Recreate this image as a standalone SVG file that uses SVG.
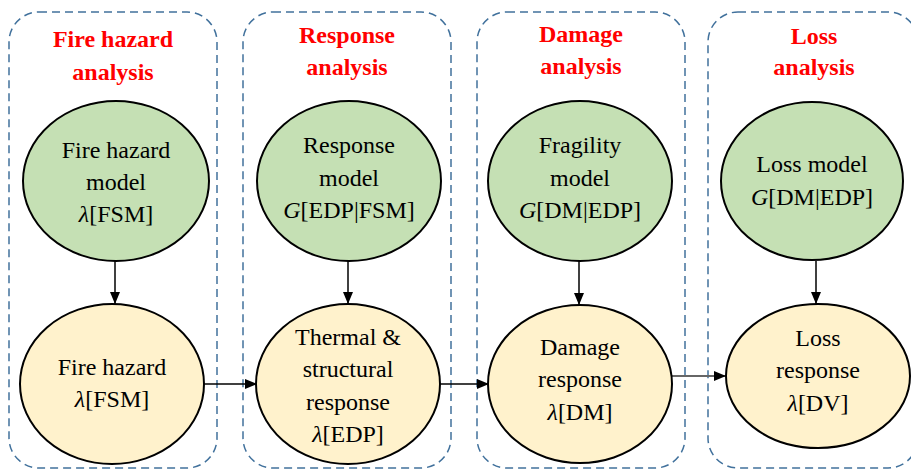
<svg xmlns="http://www.w3.org/2000/svg" width="911" height="469" viewBox="0 0 911 469">
<defs>
<style>
.panel{fill:none;stroke:#41719c;stroke-width:1.5;stroke-dasharray:8,5}
.title{font-family:"Liberation Serif","Times New Roman",serif;font-weight:bold;font-size:24px;fill:#ff0000;text-anchor:middle}
.txt{font-family:"Liberation Serif","Times New Roman",serif;font-size:24px;fill:#000;text-anchor:middle}
.g{fill:#c5e0b4;stroke:#000;stroke-width:2}
.y{fill:#fff2cc;stroke:#000;stroke-width:2}
.conn{stroke:#000;stroke-width:1.5;fill:none;marker-end:url(#ah)}
.conn2{stroke:#666;stroke-width:2;fill:none;marker-end:url(#ah)}
</style>
<marker id="ah" viewBox="0 0 12 10" refX="12" refY="5" markerWidth="12" markerHeight="10" markerUnits="userSpaceOnUse" orient="auto">
<path d="M0,0 L12,5 L0,10 Z" fill="#000"/>
</marker>
</defs>
<rect width="911" height="469" fill="#fff"/>

<g id="panel-fire">
<rect class="panel" x="9" y="12" width="208" height="456" rx="30"/>
<text class="title" x="113" y="47">Fire hazard</text>
<text class="title" x="113" y="80">analysis</text>
</g>
<g id="panel-response">
<rect class="panel" x="243" y="12" width="208" height="456" rx="30"/>
<text class="title" x="347" y="43">Response</text>
<text class="title" x="347" y="75">analysis</text>
</g>
<g id="panel-damage">
<rect class="panel" x="477" y="12" width="208" height="456" rx="30"/>
<text class="title" x="581" y="42">Damage</text>
<text class="title" x="581" y="74">analysis</text>
</g>
<g id="panel-loss">
<rect class="panel" x="708" y="12" width="210" height="456" rx="30"/>
<text class="title" x="814" y="44">Loss</text>
<text class="title" x="814" y="75">analysis</text>
</g>

<g id="connectors">
<line class="conn" x1="115" y1="261" x2="115" y2="304"/>
<line class="conn" x1="348" y1="261" x2="348" y2="304"/>
<line class="conn" x1="579" y1="261" x2="579" y2="305"/>
<line class="conn" x1="816" y1="261" x2="816" y2="304"/>
<line class="conn" x1="203" y1="384" x2="257" y2="384"/>
<line class="conn" x1="440" y1="384" x2="489" y2="384"/>
<line class="conn2" x1="672" y1="376" x2="726" y2="376"/>
</g>

<g id="fire-hazard-model">
<ellipse class="g" cx="116" cy="181" rx="93" ry="80"/>
<text class="txt" x="116" y="158">Fire hazard</text>
<text class="txt" x="116" y="190">model</text>
<text class="txt" x="116" y="222"><tspan font-style="italic">λ</tspan>[FSM]</text>
</g>
<g id="fire-hazard">
<ellipse class="y" cx="112" cy="384" rx="92" ry="80"/>
<text class="txt" x="112" y="375">Fire hazard</text>
<text class="txt" x="112" y="407"><tspan font-style="italic">λ</tspan>[FSM]</text>
</g>

<g id="response-model">
<ellipse class="g" cx="349" cy="181" rx="92" ry="80"/>
<text class="txt" x="349" y="153">Response</text>
<text class="txt" x="349" y="186">model</text>
<text class="txt" x="349" y="218"><tspan font-style="italic">G</tspan>[EDP|FSM]</text>
</g>
<g id="structural-response">
<ellipse class="y" cx="348" cy="384" rx="92" ry="80"/>
<text class="txt" x="348" y="345">Thermal &amp;</text>
<text class="txt" x="348" y="377">structural</text>
<text class="txt" x="348" y="410">response</text>
<text class="txt" x="348" y="442"><tspan font-style="italic">λ</tspan>[EDP]</text>
</g>

<g id="fragility-model">
<ellipse class="g" cx="580" cy="181" rx="92" ry="80"/>
<text class="txt" x="580" y="153">Fragility</text>
<text class="txt" x="580" y="186">model</text>
<text class="txt" x="580" y="218"><tspan font-style="italic">G</tspan>[DM|EDP]</text>
</g>
<g id="damage-response">
<ellipse class="y" cx="580" cy="384" rx="92" ry="79"/>
<text class="txt" x="580" y="355">Damage</text>
<text class="txt" x="580" y="387">response</text>
<text class="txt" x="580" y="420"><tspan font-style="italic">λ</tspan>[DM]</text>
</g>

<g id="loss-model">
<ellipse class="g" cx="812" cy="181" rx="91" ry="79"/>
<text class="txt" x="812" y="172">Loss model</text>
<text class="txt" x="812" y="205"><tspan font-style="italic">G</tspan>[DM|EDP]</text>
</g>
<g id="loss-response">
<ellipse class="y" cx="818" cy="376" rx="92" ry="72"/>
<text class="txt" x="818" y="346">Loss</text>
<text class="txt" x="818" y="378">response</text>
<text class="txt" x="818" y="411"><tspan font-style="italic">λ</tspan>[DV]</text>
</g>
</svg>
